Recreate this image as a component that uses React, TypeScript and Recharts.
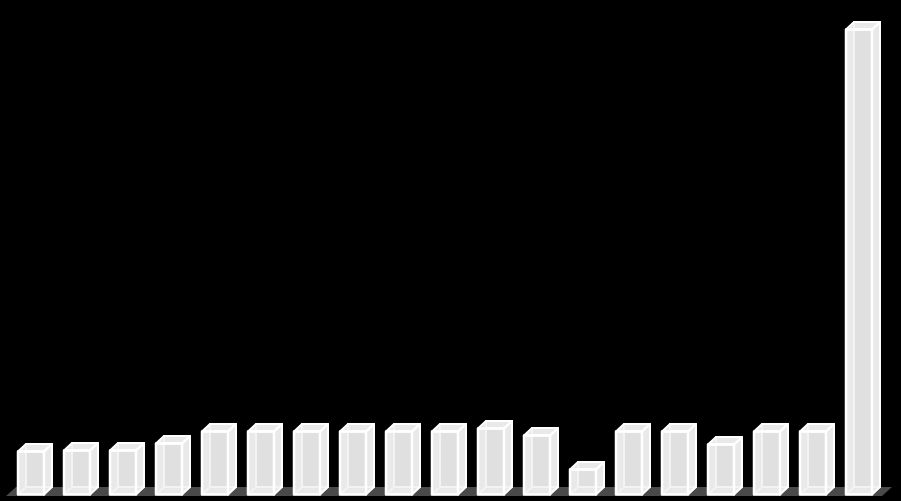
import React from "react";
import { BarChart, Bar, XAxis, YAxis, ReferenceArea } from "recharts";

const categories = ["1", "2", "3", "4", "5", "6", "7", "8", "9", "10", "11", "12", "13", "14", "15", "16", "17", "18", "19"];
const values = [43, 44, 44, 51, 63, 63, 63, 63, 63, 63, 66, 59, 25, 63, 63, 50, 63, 63, 465];

const data = categories.map((name, i) => ({ name, value: values[i] }));

const DX = 8;
const DY = 7.5;

// glass box: back wall and floor show through the front face
const GlassBar = (props: any) => {
  const { x, y, width, height } = props;
  const r = x + width;
  const b = y + height;
  const front = `${x},${y} ${r},${y} ${r},${b} ${x},${b}`;
  const top = `${x},${y} ${x + DX},${y - DY} ${r + DX},${y - DY} ${r},${y}`;
  const side = `${r},${y} ${r + DX},${y - DY} ${r + DX},${b - DY} ${r},${b}`;
  const floor = `${x},${b} ${x + DX},${b - DY} ${r + DX},${b - DY} ${r},${b}`;
  const back = `${x + DX},${y - DY} ${r + DX},${y - DY} ${r + DX},${b - DY} ${x + DX},${b - DY}`;
  return (
    <g strokeLinejoin="round">
      <polygon points={front} fill="#e9e9e9" />
      <polygon points={side} fill="#e9e9e9" />
      <polygon points={top} fill="#e9e9e9" />
      <polygon points={floor} fill="#e9e9e9" />
      <polygon points={`${x + DX},${y} ${r},${y} ${r},${b - DY} ${x + DX},${b - DY}`} fill="#e0e0e0" />
      <polygon points={back} fill="none" stroke="#f3f3f3" strokeWidth={2} />
      <line x1={x} y1={b} x2={x + DX} y2={b - DY} stroke="#f3f3f3" strokeWidth={2} />
      <polygon points={top} fill="none" stroke="#ffffff" strokeWidth={2} />
      <polygon points={side} fill="none" stroke="#ffffff" strokeWidth={2} />
      <polygon points={front} fill="none" stroke="#ffffff" strokeWidth={2.5} />
    </g>
  );
};

const Floor = (props: any) => {
  const { x, y, width, height } = props;
  const r = x + width;
  const b = y + height + 1.5;
  const pts = `${x - 2},${b} ${x + 8},${y} ${r + 10},${y} ${r},${b}`;
  return <polygon points={pts} fill="#4a4a4a" />;
};

export default function App() {
  return (
    <div style={{ position: "absolute", left: 0, top: 0, width: 901, height: 501, background: "#000", overflow: "hidden" }}>
      <BarChart width={901} height={501} data={data} margin={{ top: 0, right: 19, bottom: 6.5, left: 8 }} barSize={26}>
        <XAxis dataKey="name" hide />
        <YAxis hide domain={[0, 494.5]} />
        <ReferenceArea x1="1" x2="19" y1={0} y2={7.5} shape={Floor} ifOverflow="visible" />
        <Bar dataKey="value" shape={GlassBar} isAnimationActive={false} />
      </BarChart>
    </div>
  );
}
